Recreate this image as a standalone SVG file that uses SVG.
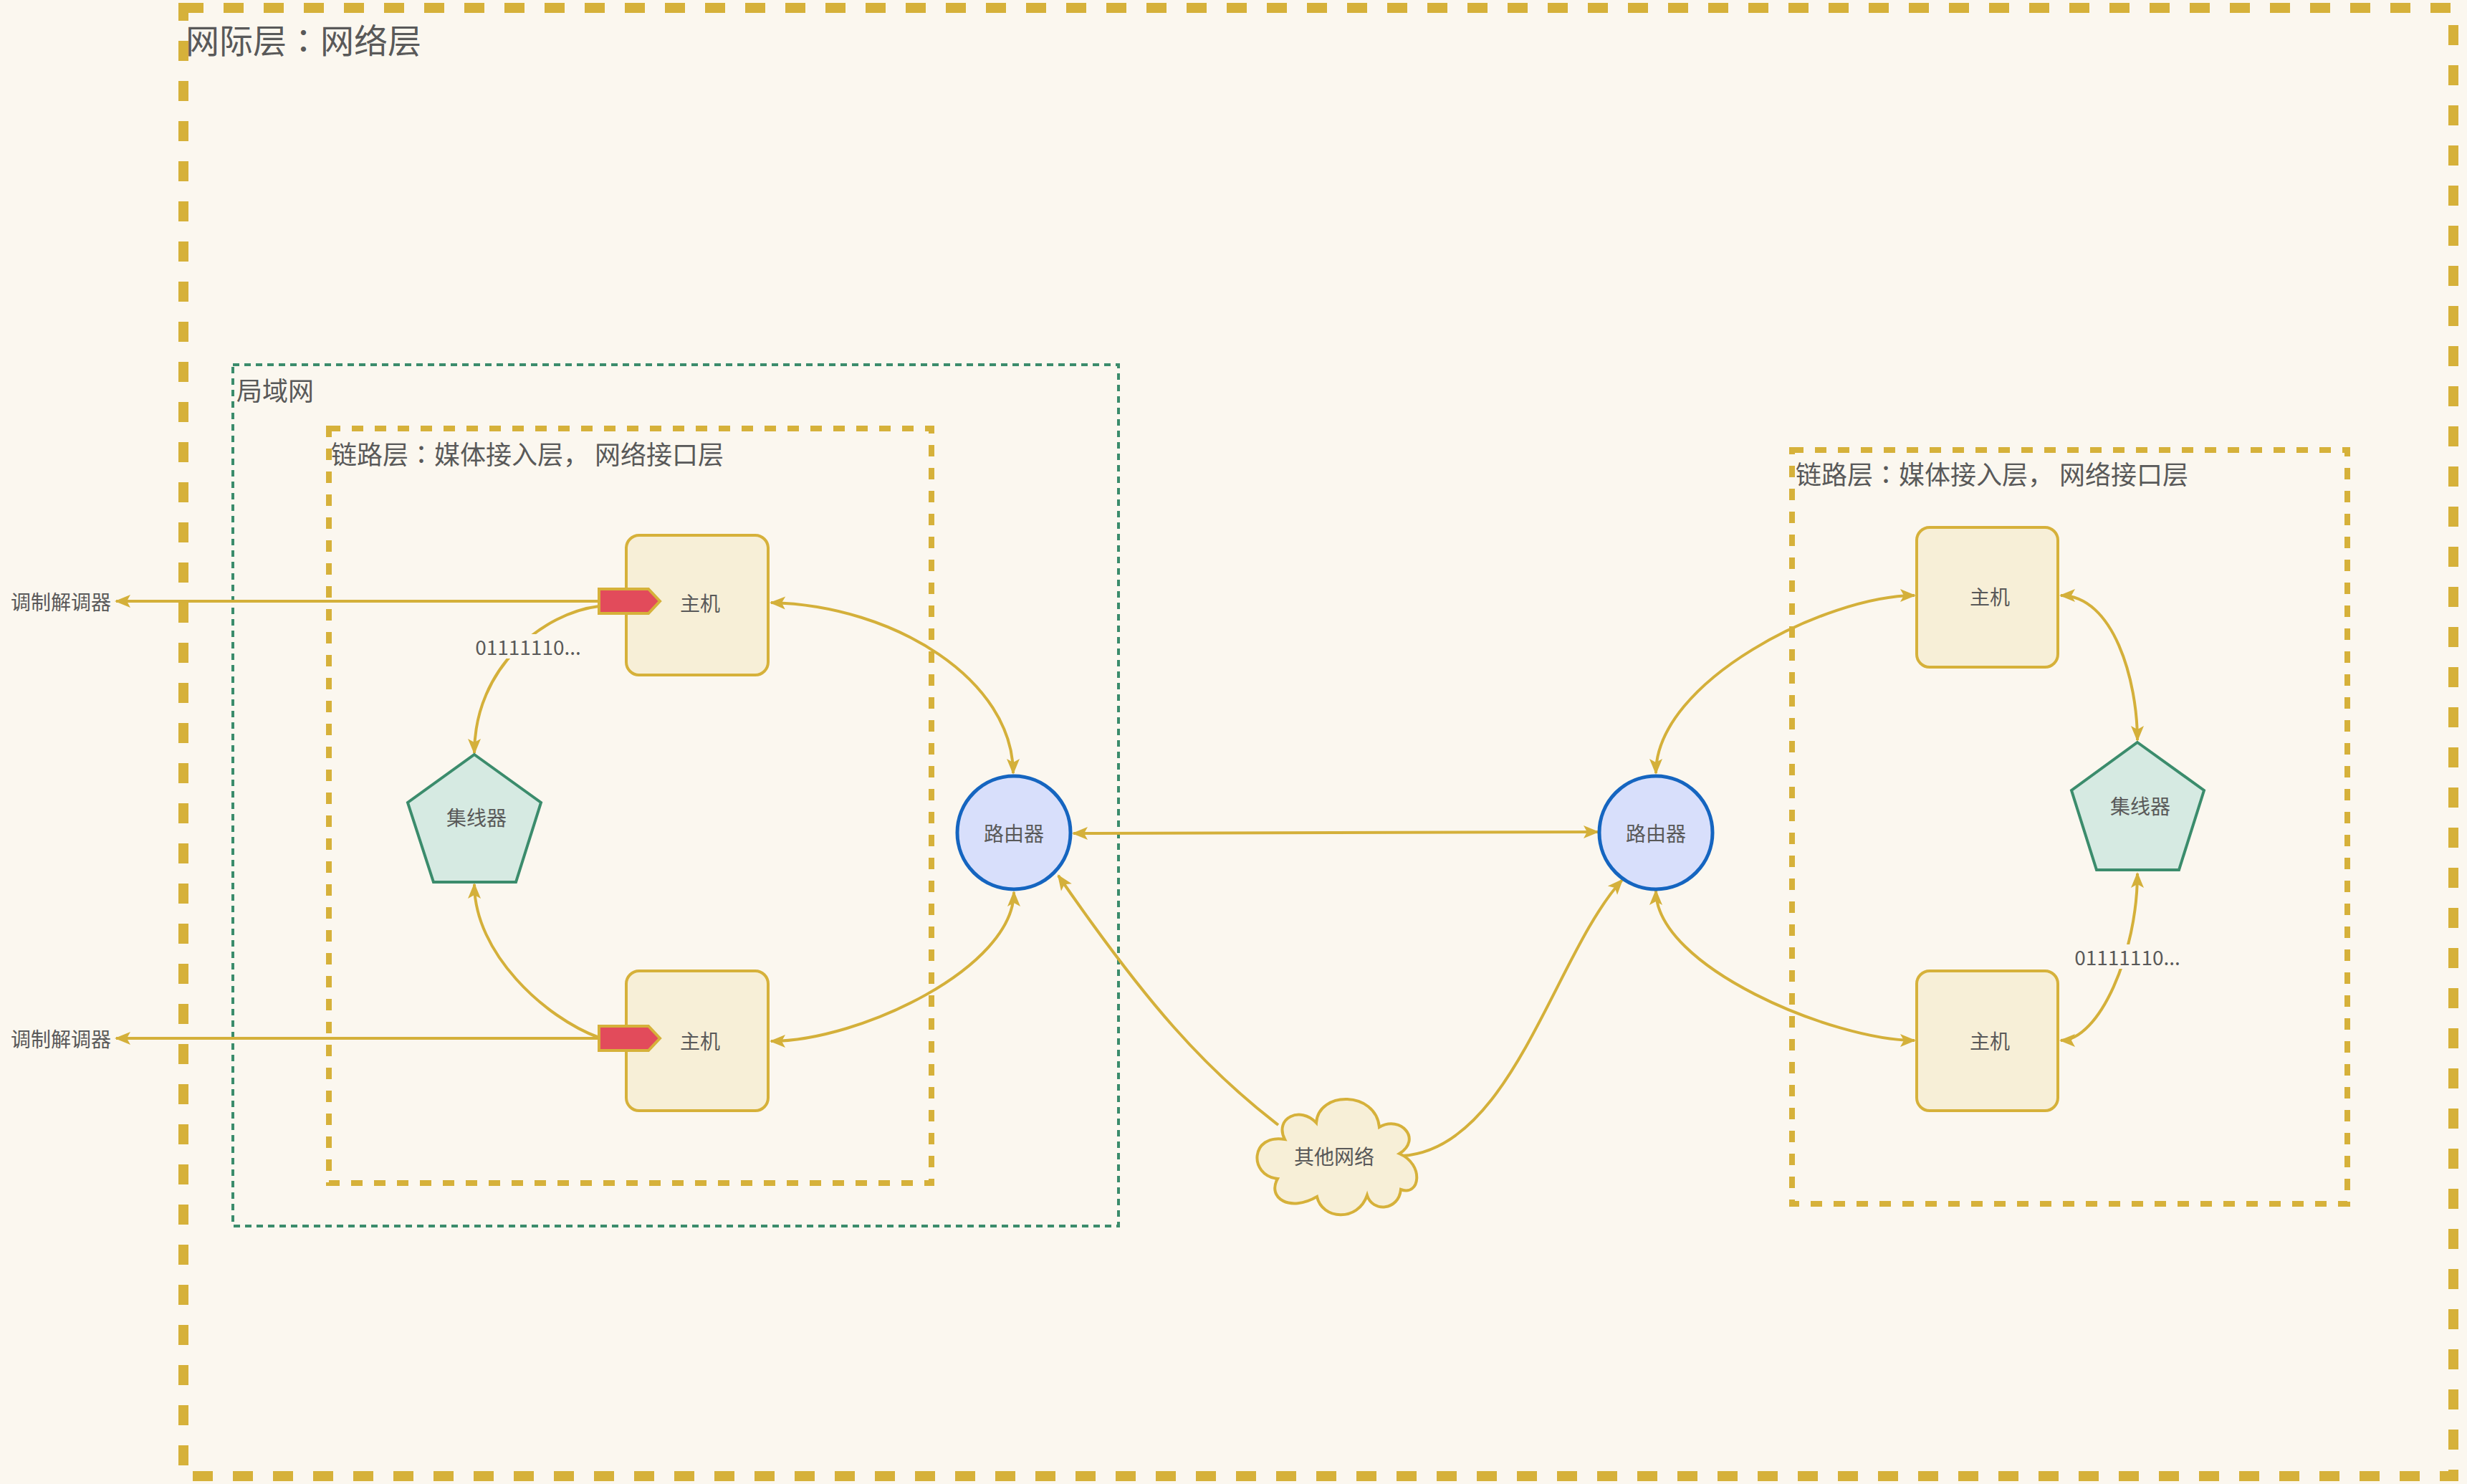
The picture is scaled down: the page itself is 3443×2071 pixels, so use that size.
<svg xmlns="http://www.w3.org/2000/svg" width="3443" height="2071" viewBox="0 0 3443 2071">
<style>
.txt{font-family:"Noto Sans CJK SC","Noto Sans",sans-serif;fill:#595959;dominant-baseline:central}
.lbl{font-size:28px;text-anchor:middle}
.colon{font-family:"Noto Sans CJK TC","Noto Sans CJK SC",sans-serif}
.host{fill:#f7efd7;stroke:#d6b13a;stroke-width:4}
.hub{fill:#d6eae2;stroke:#3b8c6c;stroke-width:4}
.router{fill:#d8dffb;stroke:#1565c0;stroke-width:5}
.port{fill:#e24b5b;stroke:#d6b13a;stroke-width:4}
.cloud{fill:#f7efd7;stroke:#d6b13a;stroke-width:4}
.conn{fill:none;stroke:#d4b03a;stroke-width:4}
.both{marker-start:url(#arr);marker-end:url(#arr)}
.end{marker-end:url(#arr)}
</style>
<defs>
<marker id="arr" viewBox="-24 -12 28 24" refX="0" refY="0" markerWidth="28" markerHeight="24" markerUnits="userSpaceOnUse" orient="auto-start-reverse">
<path d="M2,0 L-20,-9 L-15,0 L-20,9 Z" fill="#d4b03a"/>
</marker>
</defs>
<rect x="0" y="0" width="3443" height="2071" fill="#fbf7ef"/>

<g id="internet-layer">
<rect x="256" y="11" width="3168" height="2049" fill="none" stroke="#d6b13a" stroke-width="14" stroke-dasharray="28 28"/>
<text class="txt" x="259" y="53" font-size="47">网际层<tspan class="colon">：</tspan>网络层</text>
</g>
<g id="lan">
<rect x="325" y="509" width="1236" height="1202" fill="none" stroke="#3b8c6c" stroke-width="4" stroke-dasharray="9 7"/>
<text class="txt" x="330" y="543" font-size="36">局域网</text>
</g>
<g id="link-layer-left">
<rect x="459" y="598" width="841" height="1053" fill="none" stroke="#d6b13a" stroke-width="8" stroke-dasharray="16 16"/>
<text class="txt" x="462" y="632" font-size="36">链路层<tspan class="colon">：</tspan>媒体接入层， 网络接口层</text>
</g>
<g id="link-layer-right">
<rect x="2501" y="628" width="775" height="1052" fill="none" stroke="#d6b13a" stroke-width="8" stroke-dasharray="16 16"/>
<text class="txt" x="2506" y="660" font-size="36">链路层<tspan class="colon">：</tspan>媒体接入层， 网络接口层</text>
</g>

<g id="connectors">
<path class="conn end" d="M836 839 L162 839"/>
<path class="conn end" d="M836 1449 L162 1449"/>
<path class="conn end" d="M836 846 C760 855 662 930 662 1051"/>
<path class="conn end" d="M836 1448 C760 1420 662 1330 662 1234"/>
<path class="conn both" d="M1076 841 C1250 845 1414 950 1414 1079"/>
<path class="conn both" d="M1415 1245 C1415 1350 1200 1453 1076 1453"/>
<path class="conn both" d="M1498 1163 L2230 1161"/>
<path class="conn end" d="M1784 1570 C1680 1490 1600 1400 1477 1222"/>
<path class="conn end" d="M1956 1613 C2110 1605 2170 1330 2264 1228"/>
<path class="conn both" d="M2311 1243 C2311 1350 2560 1452 2672 1452"/>
<path class="conn both" d="M2311 1079 C2311 950 2550 831 2672 831"/>
<path class="conn both" d="M2876 831 C2950 831 2983 950 2983 1033"/>
<path class="conn both" d="M2983 1219 C2983 1330 2930 1452 2876 1452"/>
<rect x="664" y="885" width="146" height="34" fill="#fbf7ef"/>
<text class="txt lbl" x="737" y="902" font-size="25">01111110...</text>
<rect x="2895" y="1318" width="148" height="34" fill="#fbf7ef"/>
<text class="txt lbl" x="2969" y="1335" font-size="26">01111110...</text>
</g>

<g id="modem-top"><text class="txt" x="15" y="839" font-size="28">调制解调器</text></g>
<g id="modem-bottom"><text class="txt" x="15" y="1449" font-size="28">调制解调器</text></g>

<g id="host-left-top">
<rect class="host" x="874" y="747" width="198" height="195" rx="18"/>
<path class="port" d="M836 822 L905 822 L921 839 L905 856 L836 856 Z"/>
<text class="txt lbl" x="977" y="841">主机</text>
</g>
<g id="host-left-bottom">
<rect class="host" x="874" y="1355" width="198" height="195" rx="18"/>
<path class="port" d="M836 1432 L905 1432 L921 1449 L905 1466 L836 1466 Z"/>
<text class="txt lbl" x="977" y="1452">主机</text>
</g>
<g id="hub-left">
<polygon class="hub" points="662,1053 755,1120 720,1231 605,1231 569,1120"/>
<text class="txt lbl" x="665" y="1140">集线器</text>
</g>
<g id="router-left">
<circle class="router" cx="1415" cy="1162" r="79"/>
<text class="txt lbl" x="1415" y="1162">路由器</text>
</g>
<g id="router-right">
<circle class="router" cx="2311" cy="1162" r="79"/>
<text class="txt lbl" x="2311" y="1162">路由器</text>
</g>
<g id="cloud">
<path class="cloud" d="M1793 1590 C1778 1560 1815 1543 1837 1567 C1840 1522 1920 1522 1925 1573 C1955 1556 1985 1590 1953 1610 C1988 1625 1982 1670 1955 1660 C1952 1690 1915 1692 1908 1668 C1895 1706 1845 1702 1838 1670 C1800 1692 1768 1672 1783 1645 C1742 1640 1745 1582 1793 1590 Z"/>
<text class="txt lbl" x="1862" y="1613">其他网络</text>
</g>
<g id="host-right-top">
<rect class="host" x="2675" y="736" width="197" height="195" rx="18"/>
<text class="txt lbl" x="2777" y="832">主机</text>
</g>
<g id="host-right-bottom">
<rect class="host" x="2675" y="1355" width="197" height="195" rx="18"/>
<text class="txt lbl" x="2777" y="1452">主机</text>
</g>
<g id="hub-right">
<polygon class="hub" points="2983,1036 3076,1103 3041,1214 2926,1214 2891,1103"/>
<text class="txt lbl" x="2987" y="1124">集线器</text>
</g>
</svg>
